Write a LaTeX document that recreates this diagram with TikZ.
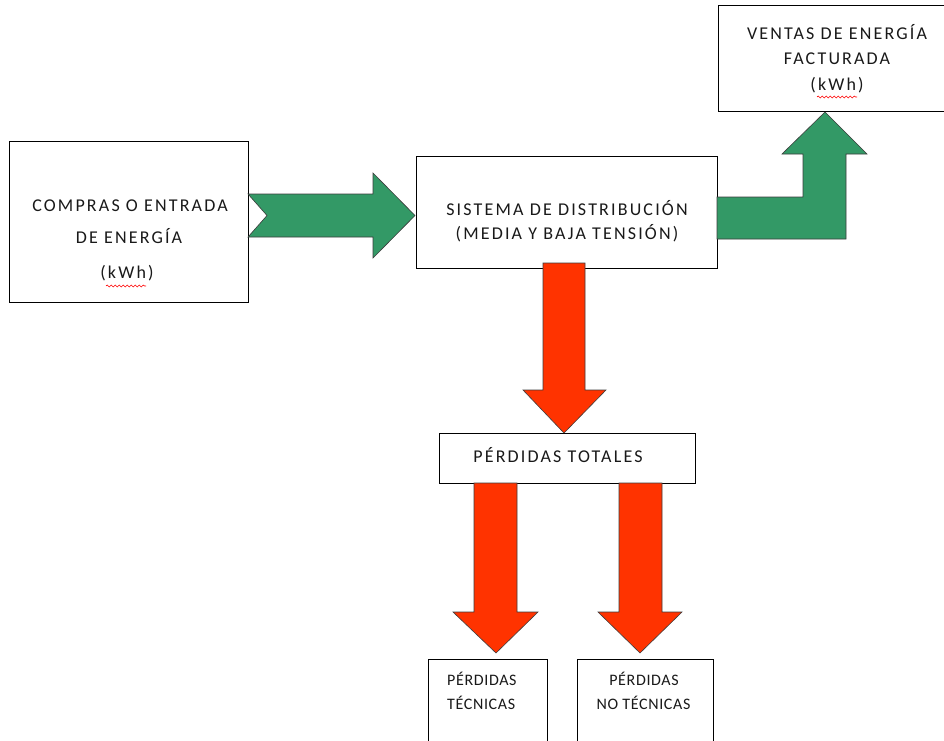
\documentclass[tikz,border=0pt]{standalone}
\usepackage{fontspec}
\usetikzlibrary{decorations.pathmorphing}
\newfontfamily\widef{Carlito}[LetterSpace=12]
\newfontfamily\narrowf{Carlito}[LetterSpace=4]
\definecolor{arrgreen}{RGB}{51,153,102}
\definecolor{arrred}{RGB}{255,51,0}
\definecolor{arredge}{RGB}{60,60,60}
\tikzset{
  box/.style={draw=black, line width=0.8pt, fill=white, inner sep=0pt, rectangle},
  bigtxt/.style={inner sep=0pt, font=\widef\fontsize{18}{21}\selectfont, text=black!90},
  smalltxt/.style={inner sep=0pt, font=\narrowf\fontsize{16}{19}\selectfont, text=black!90},
  blockarrow/.style={draw=arredge, line width=0.6pt, line join=miter},
  spell/.style={draw=red, line width=0.6pt, decorate, decoration={snake, segment length=4pt, amplitude=1pt}}
}
\begin{document}
\begin{tikzpicture}[x=1pt,y=-1pt]
\useasboundingbox (0,0) rectangle (944,740);
\clip (0,0) rectangle (944,740);
\fill[white] (0,0) rectangle (944,740);
% boxes
\node[box, minimum width=239pt, minimum height=161pt] (compras) at (128.5,221.5) {};
\node[box, minimum width=301pt, minimum height=112pt] (sistema) at (566.5,212) {};
\node[box, minimum width=238pt, minimum height=106pt] (ventas) at (837,58) {};
\node[box, minimum width=256pt, minimum height=50pt] (totales) at (567,458) {};
\node[box, minimum width=119pt, minimum height=102pt] (tecnicas) at (487.5,710) {};
\node[box, minimum width=136pt, minimum height=102pt] (notecnicas) at (645,710) {};
% texts
\node[bigtxt] (t1a) at (130,206) {COMPRAS O ENTRADA};
\node[bigtxt] (t1b) at (129,236) {DE ENERGÍA};
\node[bigtxt] (t1c) at (127,273) {(kWh)};
\draw[spell] (106,286) -- (146,286);
\node[bigtxt] (t2a) at (567,208) {SISTEMA DE DISTRIBUCIÓN};
\node[bigtxt] (t2b) at (567,233) {(MEDIA Y BAJA TENSIÓN)};
\node[bigtxt] (t3a) at (837,32) {VENTAS DE ENERGÍA};
\node[bigtxt] (t3b) at (837,59) {FACTURADA};
\node[bigtxt] (t3c) at (837,85) {(kWh)};
\draw[spell] (817,97) -- (857,97);
\node[bigtxt] (t4) at (558,455) {PÉRDIDAS TOTALES};
\node[smalltxt, anchor=west] (t5a) at (447,679) {PÉRDIDAS};
\node[smalltxt, anchor=west] (t5b) at (447,703) {TÉCNICAS};
\node[smalltxt] (t6a) at (644,679) {PÉRDIDAS};
\node[smalltxt] (t6b) at (643.5,703) {NO TÉCNICAS};
% green arrows
\draw[blockarrow, fill=arrgreen] (248,194) -- (373,194) -- (373,173) -- (415,215.5) -- (373,258) -- (373,237) -- (248,237) -- (267,215.5) -- cycle;
\draw[blockarrow, fill=arrgreen] (717,197) -- (803,197) -- (803,154) -- (782,154) -- (825,112) -- (867,154) -- (846,154) -- (846,239) -- (717,239) -- cycle;
% red arrows
\draw[blockarrow, fill=arrred] (543,263) -- (585,263) -- (585,390) -- (606,390) -- (564,433) -- (523,390) -- (543,390) -- cycle;
\draw[blockarrow, fill=arrred] (474,483) -- (517,483) -- (517,612) -- (538,612) -- (496,653) -- (453,612) -- (474,612) -- cycle;
\draw[blockarrow, fill=arrred] (619,483) -- (662,483) -- (662,612) -- (682,612) -- (640,653) -- (598,612) -- (619,612) -- cycle;
\end{tikzpicture}
\end{document}
